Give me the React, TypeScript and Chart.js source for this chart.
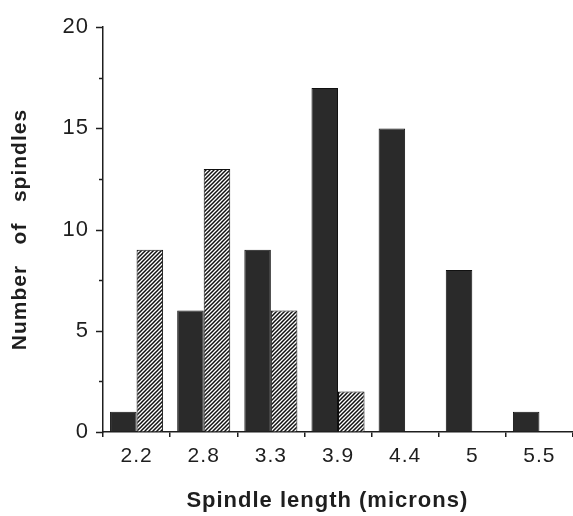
import React, { useEffect, useRef } from "react";
import { Chart, registerables } from "chart.js";

Chart.register(...registerables);

const categories = ["2.2", "2.8", "3.3", "3.9", "4.4", "5", "5.5"];
const solidCounts = [1, 6, 9, 17, 15, 8, 1];
const hatchedCounts = [9, 13, 6, 2, 0, 0, 0];
const yTickValues = [0, 5, 10, 15, 20];
const yMinorStep = 2.5;

const FONT = "'Liberation Sans', Arial, Helvetica, sans-serif";
const INK = "#1e1e1e";

function makeHatch(): CanvasPattern | string {
  const c = document.createElement("canvas");
  c.width = 4;
  c.height = 4;
  const g = c.getContext("2d");
  if (!g) return "#888";
  g.fillStyle = "#ffffff";
  g.fillRect(0, 0, 4, 4);
  g.strokeStyle = "#111111";
  g.lineWidth = 1.5;
  g.beginPath();
  g.moveTo(-1, 5);
  g.lineTo(5, -1);
  g.moveTo(-3, 3);
  g.lineTo(3, -3);
  g.moveTo(1, 7);
  g.lineTo(7, 1);
  g.stroke();
  const p = g.createPattern(c, "repeat");
  return p || "#888";
}

const letterSpacingPlugin = {
  id: "letterSpacing",
  beforeDraw(chart: any) {
    (chart.ctx as any).letterSpacing = "1px";
  },
  afterDraw(chart: any) {
    (chart.ctx as any).letterSpacing = "0px";
  },
};

const axisTicksPlugin = {
  id: "axisTicks",
  afterDraw(chart: any) {
    const y = chart.scales.y;
    const ctx = chart.ctx;
    const x0 = y.right;
    ctx.save();
    ctx.strokeStyle = INK;
    ctx.lineWidth = 1.5;
    for (let v = 0; v <= 20 + 1e-9; v += yMinorStep) {
      const py = Math.round(y.getPixelForValue(v)) + 0.5;
      const major = yTickValues.includes(v);
      const len = major ? 7 : 4;
      ctx.beginPath();
      ctx.moveTo(x0 - len, py);
      ctx.lineTo(x0, py);
      ctx.stroke();
    }
    ctx.restore();
  },
};

export default function App() {
  const ref = useRef<HTMLCanvasElement | null>(null);

  useEffect(() => {
    if (!ref.current) return;
    const hatch = makeHatch();
    const chart = new Chart(ref.current, {
      type: "bar",
      data: {
        labels: categories,
        datasets: [
          {
            data: solidCounts,
            backgroundColor: "#2a2a2a",
            borderColor: "#111111",
            borderWidth: 1,
            categoryPercentage: 0.79,
            barPercentage: 1,
          },
          {
            data: hatchedCounts,
            backgroundColor: hatch as any,
            borderColor: "#111111",
            borderWidth: 1,
            categoryPercentage: 0.79,
            barPercentage: 1,
          },
        ],
      },
      options: {
        responsive: false,
        animation: false,
        layout: { padding: { top: 15, right: 0, bottom: 0, left: 0 } },
        plugins: {
          legend: { display: false },
          tooltip: { enabled: false },
        },
        scales: {
          x: {
            type: "category",
            offset: true,
            grid: {
              drawOnChartArea: false,
              drawTicks: true,
              tickLength: 5,
              offset: true,
              color: INK,
              lineWidth: 1.5,
            },
            border: { display: true, color: INK, width: 1.5 },
            ticks: {
              color: INK,
              font: { family: FONT, size: 21 },
              padding: 7,
              maxRotation: 0,
            },
            title: {
              display: true,
              text: "Spindle length (microns)   ",
              color: INK,
              font: { family: FONT, size: 22, weight: "bold" },
              padding: { top: 0, bottom: 2 },
            },
            afterFit(scale: any) {
              scale.height = 84;
            },
          },
          y: {
            type: "linear",
            min: 0,
            max: 20,
            afterBuildTicks(scale: any) {
              scale.ticks = yTickValues.map((v) => ({ value: v }));
            },
            grid: { drawOnChartArea: false, drawTicks: false },
            border: { display: true, color: INK, width: 1.5 },
            ticks: {
              color: INK,
              font: { family: FONT, size: 22 },
              padding: 14,
            },
            title: {
              display: true,
              text: "Number   of   spindles",
              color: INK,
              font: { family: FONT, size: 21, weight: "bold" },
              padding: { top: 8, bottom: 0 },
            },
            afterFit(scale: any) {
              scale.width = 103;
            },
          },
        },
      },
      plugins: [letterSpacingPlugin, axisTicksPlugin],
    });
    return () => chart.destroy();
  }, []);

  return (
    <div style={{ position: "absolute", left: 0, top: 0, width: 573, height: 516, background: "#fff" }}>
      <canvas ref={ref} width={573} height={516} style={{ display: "block" }} />
    </div>
  );
}
